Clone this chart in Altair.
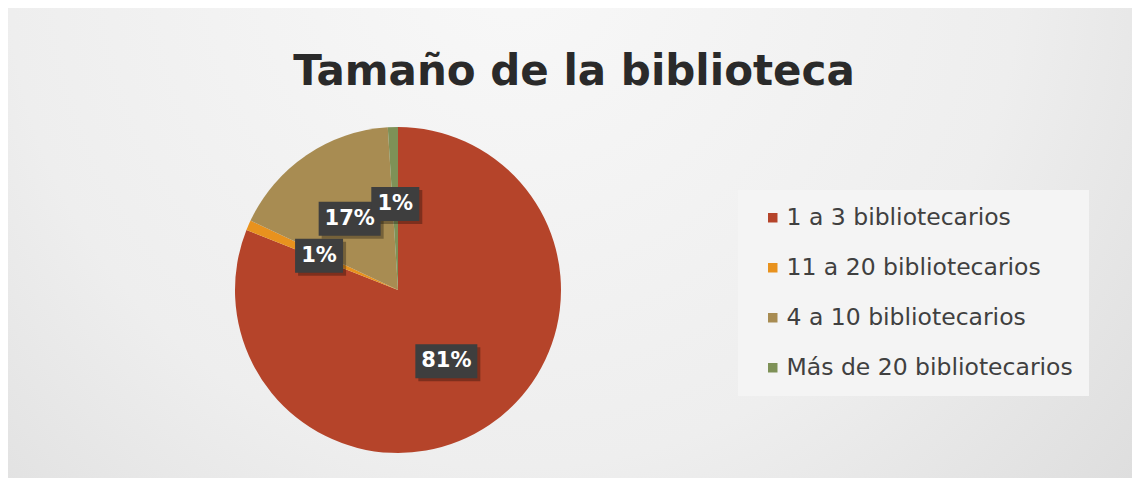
import altair as alt
import pandas as pd

# ---- data ----
categories = ["1 a 3 bibliotecarios", "11 a 20 bibliotecarios",
              "4 a 10 bibliotecarios", "Más de 20 bibliotecarios"]
values = [81, 1, 17, 1]
colors = ["#B5442A", "#E8921E", "#A88C52", "#7E9157"]
title_text = ["Tamaño de la biblioteca"]

df = pd.DataFrame({"categoria": categories, "valor": values, "orden": list(range(len(values)))})

# ---- layout ----
W, H = 1124, 470
CX, CY, R = 390, 282, 163
LR = 86

xs = alt.Scale(domain=[0, W], range=[0, W])
ys = alt.Scale(domain=[0, H], range=[0, H])

bg = alt.Chart(pd.DataFrame({"k": [0]})).mark_rect(
    fill=alt.Gradient(
        gradient="radial",
        stops=[alt.GradientStop(color="#F8F8F8", offset=0),
               alt.GradientStop(color="#EEEEEE", offset=0.5),
               alt.GradientStop(color="#D3D3D3", offset=1)],
        x1=0.45, y1=0.25, r1=0, x2=0.45, y2=0.25, r2=0.9),
    strokeWidth=0,
).encode(x=alt.value(0), x2=alt.value(W), y=alt.value(0), y2=alt.value(H))

base = alt.Chart(df)

pie = base.mark_arc(radius=R, strokeWidth=0).encode(
    theta=alt.Theta("valor:Q", stack=True),
    color=alt.Color(
        "categoria:N",
        scale=alt.Scale(domain=categories, range=colors),
        legend=alt.Legend(
            title=None, orient="none", legendX=730, legendY=182,
            fillColor="#F4F4F4", padding=16, symbolOffset=7,
            symbolType="square", symbolSize=90, symbolStrokeWidth=0,
            labelFontSize=23.5, labelFont="DejaVu Sans", labelColor="#404040",
            rowPadding=25, labelOffset=2, labelLimit=400,
        ),
    ),
    order=alt.Order("orden:Q"),
    x=alt.value(CX),
    y=alt.value(CY),
)

lab = base.transform_joinaggregate(total="sum(valor)").transform_window(
    cum="sum(valor)", sort=[alt.SortField("orden")], frame=[None, 0]
).transform_calculate(
    ang="2*PI*(datum.cum - datum.valor/2)/datum.total",
    txt="format(datum.valor/datum.total, '.0%')",
).transform_calculate(
    lx=f"{CX} + {LR}*sin(datum.ang)",
    ly=f"{CY} - {LR}*cos(datum.ang)",
    hw="7*length(datum.txt) + 10",
).transform_calculate(
    bx1="datum.lx - datum.hw", bx2="datum.lx + datum.hw",
    by1="datum.ly - 17", by2="datum.ly + 17",
    sx1="datum.lx - datum.hw + 3", sx2="datum.lx + datum.hw + 3",
    sy1="datum.ly - 14", sy2="datum.ly + 20",
)

shadow = lab.mark_rect(color="#000000", opacity=0.3).encode(
    x=alt.X("sx1:Q", scale=xs, axis=None), x2="sx2:Q",
    y=alt.Y("sy1:Q", scale=ys, axis=None), y2="sy2:Q",
)
box = lab.mark_rect(color="#3E3E3E").encode(
    x=alt.X("bx1:Q", scale=xs, axis=None), x2="bx2:Q",
    y=alt.Y("by1:Q", scale=ys, axis=None), y2="by2:Q",
)
txt = lab.mark_text(font="DejaVu Sans", fontWeight="bold", fontSize=21,
                    color="white", align="center", baseline="middle").encode(
    x=alt.X("lx:Q", scale=xs, axis=None),
    y=alt.Y("ly:Q", scale=ys, axis=None),
    text="txt:N",
)

title = alt.Chart(pd.DataFrame({"t": title_text})).mark_text(
    font="DejaVu Sans", fontWeight="bold", fontSize=42, color="#2A2A2A",
    align="center", baseline="alphabetic",
).encode(x=alt.value(566), y=alt.value(77), text="t:N")

chart = alt.layer(bg, pie, shadow, box, txt, title).properties(
    width=W, height=H, padding=0,
    autosize=alt.AutoSizeParams(type="none"),
    background="#E6E6E6",
).configure_view(stroke=None)

chart.save("out.html", embed_options={"renderer": "svg", "actions": False})
